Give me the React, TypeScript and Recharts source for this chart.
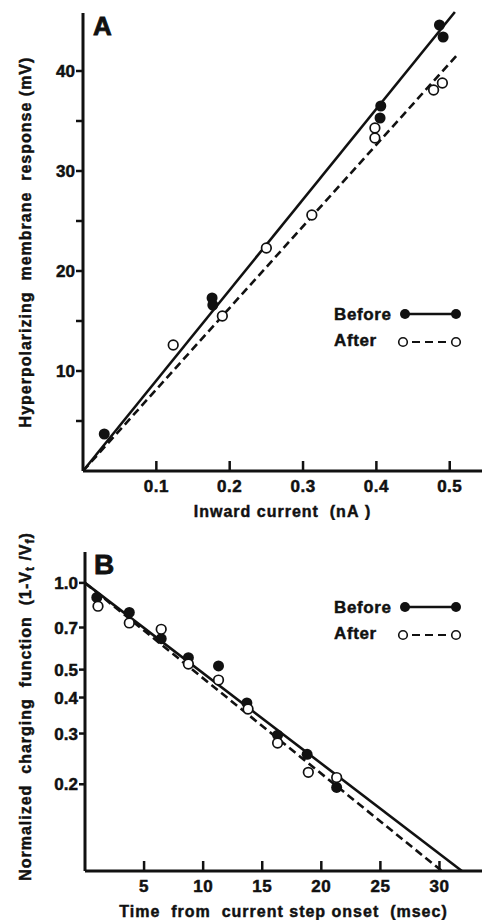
import React from "react";
import { ScatterChart, Scatter, XAxis, YAxis, ReferenceLine, Label } from "recharts";

const FONT = '"Liberation Sans", Arial, Helvetica, sans-serif';
const INK = "#111";

// ---- Panel A: membrane response vs inward current ----
const currentTicks = [0.1, 0.2, 0.3, 0.4, 0.5];
const responseTicks = [5, 10, 15, 20, 25, 30, 35, 40];
const responseLabelled = [10, 20, 30, 40];

const currentBefore = [0.029, 0.176, 0.177, 0.405, 0.406, 0.486, 0.491];
const responseBefore = [3.7, 17.3, 16.6, 35.3, 36.5, 44.6, 43.4];
const currentAfter = [0.123, 0.19, 0.25, 0.312, 0.398, 0.398, 0.478, 0.49];
const responseAfter = [12.6, 15.5, 22.3, 25.6, 34.3, 33.3, 38.1, 38.8];

const fitCurrentBefore = [0, 0.507];
const fitResponseBefore = [0, 45.9];
const fitCurrentAfter = [0, 0.51];
const fitResponseAfter = [0, 41.6];

// ---- Panel B: normalized charging function vs time ----
const timeTicks = [5, 10, 15, 20, 25, 30];
const chargeTicks = [0.2, 0.3, 0.4, 0.5, 0.7, 1.0];

const timeBefore = [1.0, 3.75, 6.45, 8.75, 11.3, 13.7, 16.3, 18.8, 21.3];
const chargeBefore = [0.89, 0.79, 0.64, 0.55, 0.515, 0.383, 0.296, 0.254, 0.195];
const timeAfter = [1.1, 3.75, 6.45, 8.75, 11.3, 13.8, 16.3, 18.9, 21.3];
const chargeAfter = [0.83, 0.726, 0.69, 0.523, 0.46, 0.365, 0.278, 0.22, 0.211];

const fitTimeBefore = [0, 31.9];
const fitChargeBefore = [1.0, 0.1];
const fitTimeAfter = [0, 30.2];
const fitChargeAfter = [1.0, 0.1];

const seriesNames = ["Before", "After"];

const toPoints = (xs: number[], ys: number[]) => xs.map((x, i) => ({ x, y: ys[i] }));

const filledDot = (p: any) => <circle cx={p.cx} cy={p.cy} r={5.5} fill={INK} />;
const openDot = (p: any) => (
  <circle cx={p.cx} cy={p.cy} r={4.8} fill="#fff" stroke={INK} strokeWidth={1.7} />
);

// printed type is heavier than Liberation Sans Bold, so give it a thin outline
const titleStyle: React.CSSProperties = {
  fontFamily: FONT,
  fontWeight: 700,
  fontSize: 16,
  letterSpacing: 1.0,
  fill: INK,
  stroke: INK,
  strokeWidth: 0.45,
};

const tickStyle = {
  fill: INK,
  fontSize: 17,
  fontWeight: 700,
  fontFamily: FONT,
  stroke: INK,
  strokeWidth: 0.5,
};

const NB = "\u00a0";

// x ticks point up into the plot, labels sit below the axis
const xTick = (fmt: (v: number) => string) => (props: any) => {
  const { x, y, payload } = props;
  return (
    <g>
      <line x1={x} y1={y} x2={x} y2={y - 10} stroke={INK} strokeWidth={2.5} />
      <text x={x} y={y + 21} textAnchor="middle" style={{ ...tickStyle, letterSpacing: 0.5 }}>
        {fmt(payload.value)}
      </text>
    </g>
  );
};

const xTitle = (text: string) => (props: any) => {
  const { x, y, width } = props.viewBox;
  return (
    <text x={x + width / 2} y={y + 46} textAnchor="middle" style={titleStyle}>
      {text}
    </text>
  );
};

const yTitle = (children: React.ReactNode, shift: number) => (props: any) => {
  const { x, y, height } = props.viewBox;
  const cx = x + 31;
  const cy = y + height / 2 + shift;
  return (
    <text x={cx} y={cy} textAnchor="middle" transform={`rotate(-90 ${cx} ${cy})`} style={titleStyle}>
      {children}
    </text>
  );
};

function LegendOverlay({ top }: { top: number }) {
  const labelStyle = { ...titleStyle, fontSize: 17, letterSpacing: 0.6 };
  return (
    <g>
      <text x={334} y={top + 6} style={labelStyle}>
        {seriesNames[0]}
      </text>
      <line x1={405} y1={top} x2={456} y2={top} stroke={INK} strokeWidth={2.5} />
      <circle cx={405} cy={top} r={5} fill={INK} />
      <circle cx={456} cy={top} r={5} fill={INK} />
      <text x={334} y={top + 32} style={labelStyle}>
        {seriesNames[1]}
      </text>
      <line x1={412} y1={top + 28} x2={447} y2={top + 28} stroke={INK} strokeWidth={2.2} strokeDasharray="8 5" />
      <circle cx={403} cy={top + 28} r={4.3} fill="#fff" stroke={INK} strokeWidth={1.6} />
      <circle cx={456} cy={top + 28} r={4.3} fill="#fff" stroke={INK} strokeWidth={1.6} />
    </g>
  );
}

function PanelA() {
  return (
    <div style={{ position: "absolute", left: 0, top: 0, width: 482, height: 520 }}>
      <ScatterChart width={482} height={520} margin={{ top: 13, right: 0, bottom: 0, left: 0 }}>
        <XAxis
          type="number"
          dataKey="x"
          domain={[0, 0.544]}
          ticks={currentTicks}
          interval={0}
          height={49}
          tickSize={0}
          tickMargin={0}
          tickLine={false}
          axisLine={{ stroke: INK, strokeWidth: 3 }}
          tick={xTick((v) => v.toFixed(1))}
          allowDataOverflow
        >
          <Label content={xTitle(`Inward current${NB}${NB}(nA${NB})`)} />
        </XAxis>
        <YAxis
          type="number"
          dataKey="y"
          domain={[0, 45.8]}
          ticks={responseTicks}
          interval={0}
          width={83}
          tickSize={7}
          tickMargin={1}
          tickLine={{ stroke: INK, strokeWidth: 2.5 }}
          axisLine={{ stroke: INK, strokeWidth: 3 }}
          tick={tickStyle}
          tickFormatter={(v: number) => (responseLabelled.includes(v) ? String(v) : "")}
          allowDataOverflow
        >
          <Label content={yTitle(`Hyperpolarizing${NB}${NB}membrane${NB}${NB}response${NB}(mV)`, 0)} />
        </YAxis>
        <ReferenceLine
          segment={toPoints(fitCurrentBefore, fitResponseBefore)}
          stroke={INK}
          strokeWidth={2.6}
          ifOverflow="visible"
        />
        <ReferenceLine
          segment={toPoints(fitCurrentAfter, fitResponseAfter)}
          stroke={INK}
          strokeWidth={2.6}
          strokeDasharray="8 4.5"
          ifOverflow="visible"
        />
        <Scatter
          name={seriesNames[0]}
          data={toPoints(currentBefore, responseBefore)}
          shape={filledDot}
          isAnimationActive={false}
        />
        <Scatter
          name={seriesNames[1]}
          data={toPoints(currentAfter, responseAfter)}
          shape={openDot}
          isAnimationActive={false}
        />
      </ScatterChart>
      <svg width={482} height={520} style={{ position: "absolute", left: 0, top: 0, pointerEvents: "none" }}>
        <text x={93} y={35} style={{ fontFamily: FONT, fontWeight: 700, fontSize: 26, fill: INK, stroke: INK, strokeWidth: 0.8 }}>
          A
        </text>
        <LegendOverlay top={314} />
      </svg>
    </div>
  );
}

function PanelB() {
  return (
    <div style={{ position: "absolute", left: 0, top: 520, width: 482, height: 400 }}>
      <ScatterChart width={482} height={400} margin={{ top: 32, right: 0, bottom: 0, left: 0 }}>
        <XAxis
          type="number"
          dataKey="x"
          domain={[0, 33.6]}
          ticks={timeTicks}
          interval={0}
          height={49}
          tickSize={0}
          tickMargin={0}
          tickLine={false}
          axisLine={{ stroke: INK, strokeWidth: 3 }}
          tick={xTick((v) => String(v))}
          allowDataOverflow
        >
          <Label content={xTitle(`Time${NB}${NB}from${NB}${NB}current${NB}step${NB}onset${NB}${NB}(msec)`)} />
        </XAxis>
        <YAxis
          type="number"
          dataKey="y"
          scale="log"
          domain={[0.1, 1.28]}
          ticks={chargeTicks}
          interval={0}
          width={85}
          tickSize={6}
          tickMargin={1}
          tickLine={{ stroke: INK, strokeWidth: 2.5 }}
          axisLine={{ stroke: INK, strokeWidth: 3 }}
          tick={tickStyle}
          tickFormatter={(v: number) => (v === 1 ? "1.0" : String(v))}
          allowDataOverflow
        >
          <Label
            content={yTitle(
              <>
                {`Normalized${NB}${NB}charging${NB}${NB}function${NB}${NB}(1-V`}
                <tspan dy={3} fontSize={12}>t</tspan>
                <tspan dy={-3}>{`${NB}/V`}</tspan>
                <tspan dy={3} fontSize={12}>f</tspan>
                <tspan dy={-3}>)</tspan>
              </>,
              -5
            )}
          />
        </YAxis>
        <ReferenceLine
          segment={toPoints(fitTimeBefore, fitChargeBefore)}
          stroke={INK}
          strokeWidth={2.6}
          ifOverflow="visible"
        />
        <ReferenceLine
          segment={toPoints(fitTimeAfter, fitChargeAfter)}
          stroke={INK}
          strokeWidth={2.6}
          strokeDasharray="8 4.5"
          ifOverflow="visible"
        />
        <Scatter
          name={seriesNames[0]}
          data={toPoints(timeBefore, chargeBefore)}
          shape={filledDot}
          isAnimationActive={false}
        />
        <Scatter
          name={seriesNames[1]}
          data={toPoints(timeAfter, chargeAfter)}
          shape={openDot}
          isAnimationActive={false}
        />
      </ScatterChart>
      <svg width={482} height={400} style={{ position: "absolute", left: 0, top: 0, pointerEvents: "none" }}>
        <text x={94} y={54} style={{ fontFamily: FONT, fontWeight: 700, fontSize: 28, fill: INK, stroke: INK, strokeWidth: 0.8 }}>
          B
        </text>
        <LegendOverlay top={87} />
      </svg>
    </div>
  );
}

export default function App() {
  return (
    <div style={{ position: "absolute", left: 0, top: 0, width: 482, height: 920, background: "#fff" }}>
      <PanelA />
      <PanelB />
    </div>
  );
}
